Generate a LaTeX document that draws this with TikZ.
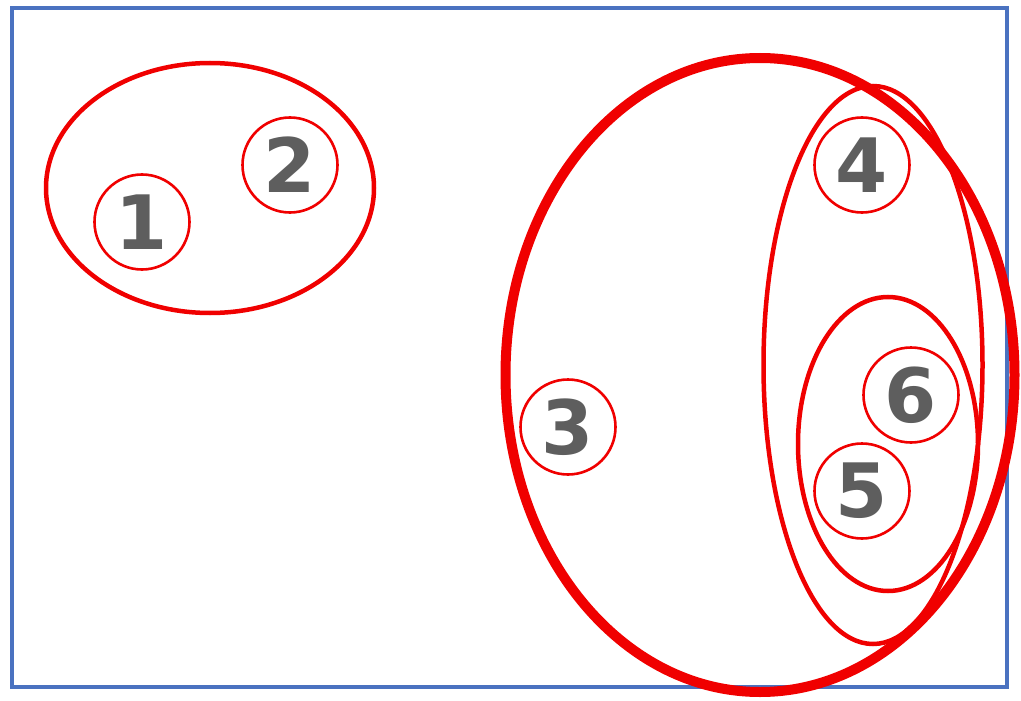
\documentclass[tikz,border=0pt]{standalone}
\usepackage{fontspec}
\setmainfont{DejaVu Sans}
\usetikzlibrary{shapes.geometric}
\definecolor{frameblue}{HTML}{4A72C0}
\definecolor{setred}{HTML}{F00000}
\definecolor{numgray}{HTML}{5E5E5E}
\begin{document}
\begin{tikzpicture}[x=1pt,y=-1pt,
  elem/.style={circle, draw=setred, line width=2.6pt, minimum size=95pt, inner sep=0pt,
    text=numgray, font=\fontsize{75}{75}\selectfont\bfseries},
  group/.style={ellipse, draw=setred, line width=4.5pt, inner sep=0pt},
  bigset/.style={ellipse, draw=setred, line width=10pt, inner sep=0pt},
  frame/.style={draw=frameblue, line width=3.5pt}]
\useasboundingbox (0,0) rectangle (1021,701);
\fill[white] (0,0) rectangle (1021,701);
\node[frame, rectangle, minimum width=995pt, minimum height=679pt, inner sep=0pt] (border) at (509.5,347.5) {};
% groups
\node[group, minimum width=328pt, minimum height=250pt] (g12) at (210,188) {};
\node[bigset, minimum width=509pt, minimum height=634pt] (g3456) at (760,375) {};
\node[group, minimum width=219pt, minimum height=558pt] (g456) at (873,365) {};
\node[group, minimum width=180pt, minimum height=294pt] (g56) at (888,444) {};
% elements
\node[elem] (e1) at (142,222) {1};
\node[elem] (e2) at (290,165) {2};
\node[elem] (e3) at (568,427) {3};
\node[elem] (e4) at (862,165) {4};
\node[elem] (e5) at (862,491) {5};
\node[elem] (e6) at (911,395) {6};
\end{tikzpicture}
\end{document}
